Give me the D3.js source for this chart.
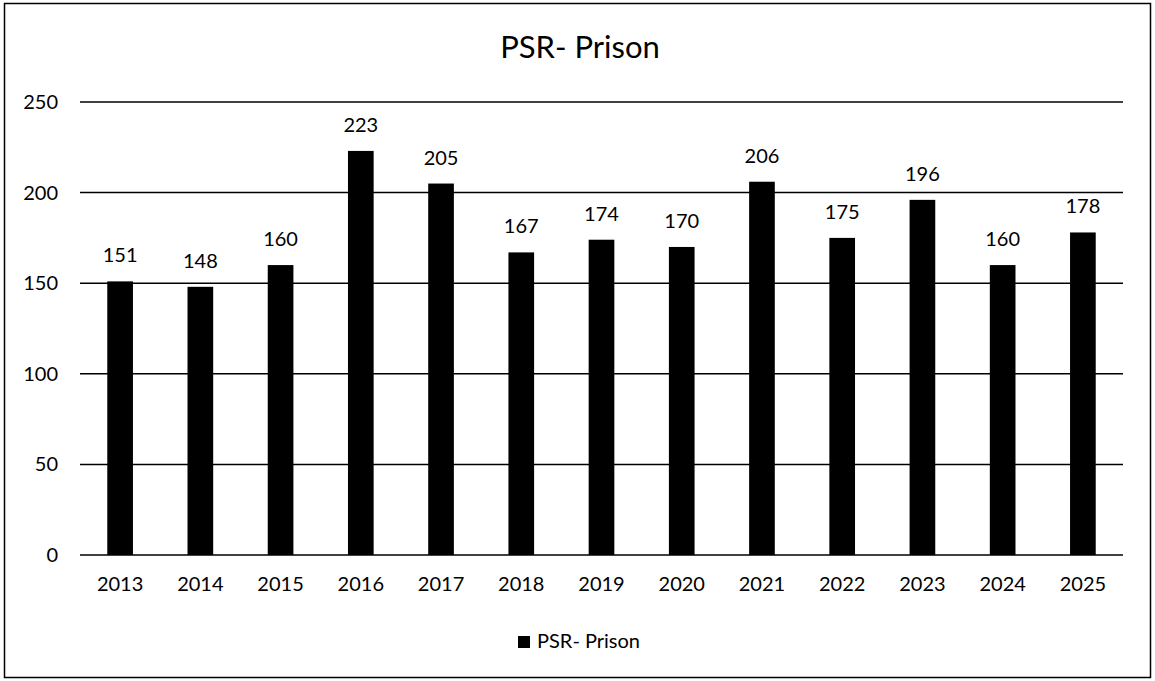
<!DOCTYPE html>
<html lang="en">
<head>
    <meta charset="UTF-8">
    <title>PSR- Prison</title>
    <script src="https://cdn.jsdelivr.net/npm/d3@7"></script>
    <style>
        body { margin: 0; background: white; }
        text { font-family: Lato, "Open Sans", sans-serif; fill: #000; }
    </style>
</head>
<body>
    <svg id="chart" width="1155" height="681"></svg>
    <script>
        // chart data
        const years = ["2013", "2014", "2015", "2016", "2017", "2018", "2019", "2020", "2021", "2022", "2023", "2024", "2025"];
        const values = [151, 148, 160, 223, 205, 167, 174, 170, 206, 175, 196, 160, 178];
        const yTicks = [0, 50, 100, 150, 200, 250];
        const seriesName = "PSR- Prison";

        const svg = d3.select("#chart");

        // outer frame
        svg.append("rect")
            .attr("x", 4.5).attr("y", 3.5)
            .attr("width", 1146).attr("height", 674)
            .attr("fill", "white")
            .attr("stroke", "#000")
            .attr("stroke-width", 1.5);

        svg.append("text")
            .attr("x", 580).attr("y", 58)
            .attr("text-anchor", "middle")
            .attr("font-size", 31)
            .text(seriesName);

        const margin = { left: 80, right: 1123, top: 102, bottom: 555 };

        const x = d3.scaleBand()
            .domain(years)
            .range([margin.left, margin.right])
            .paddingInner(0.68)
            .paddingOuter(0.34);

        const y = d3.scaleLinear()
            .domain([0, 250])
            .range([margin.bottom, margin.top]);

        // gridlines
        svg.append("g")
            .selectAll("line")
            .data(yTicks)
            .enter()
            .append("line")
            .attr("x1", margin.left).attr("x2", margin.right)
            .attr("y1", d => y(d)).attr("y2", d => y(d))
            .attr("stroke", "#000")
            .attr("stroke-width", 1.5);

        // y axis labels
        const yAxis = svg.append("g")
            .attr("transform", `translate(${margin.left - 22},0)`)
            .call(d3.axisLeft(y).tickValues(yTicks).tickSize(0).tickPadding(0));
        yAxis.select(".domain").remove();
        yAxis.selectAll("text")
            .attr("font-size", 20)
            .attr("font-family", "Lato, sans-serif")
            .attr("fill", "#000");

        // x axis labels
        const xAxis = svg.append("g")
            .attr("transform", `translate(0,${margin.bottom + 22})`)
            .call(d3.axisBottom(x).tickSize(0).tickPadding(0));
        xAxis.select(".domain").remove();
        xAxis.selectAll("text")
            .attr("font-size", 20)
            .attr("font-family", "Lato, sans-serif")
            .attr("fill", "#000");

        // bars
        svg.selectAll(".bar")
            .data(values)
            .enter()
            .append("rect")
            .attr("class", "bar")
            .attr("x", (d, i) => x(years[i]))
            .attr("y", d => y(d))
            .attr("width", x.bandwidth())
            .attr("height", d => y(0) - y(d))
            .attr("fill", "#000");

        // value labels
        svg.selectAll(".val")
            .data(values)
            .enter()
            .append("text")
            .attr("class", "val")
            .attr("x", (d, i) => x(years[i]) + x.bandwidth() / 2)
            .attr("y", d => y(d) - 19)
            .attr("text-anchor", "middle")
            .attr("font-size", 20)
            .text(d => d);

        // legend
        const legend = svg.append("g");
        legend.append("rect")
            .attr("x", 518).attr("y", 636)
            .attr("width", 12).attr("height", 12)
            .attr("fill", "#000");
        legend.append("text")
            .attr("x", 537).attr("y", 648)
            .attr("font-size", 20)
            .text(seriesName);
    </script>
</body>
</html>
